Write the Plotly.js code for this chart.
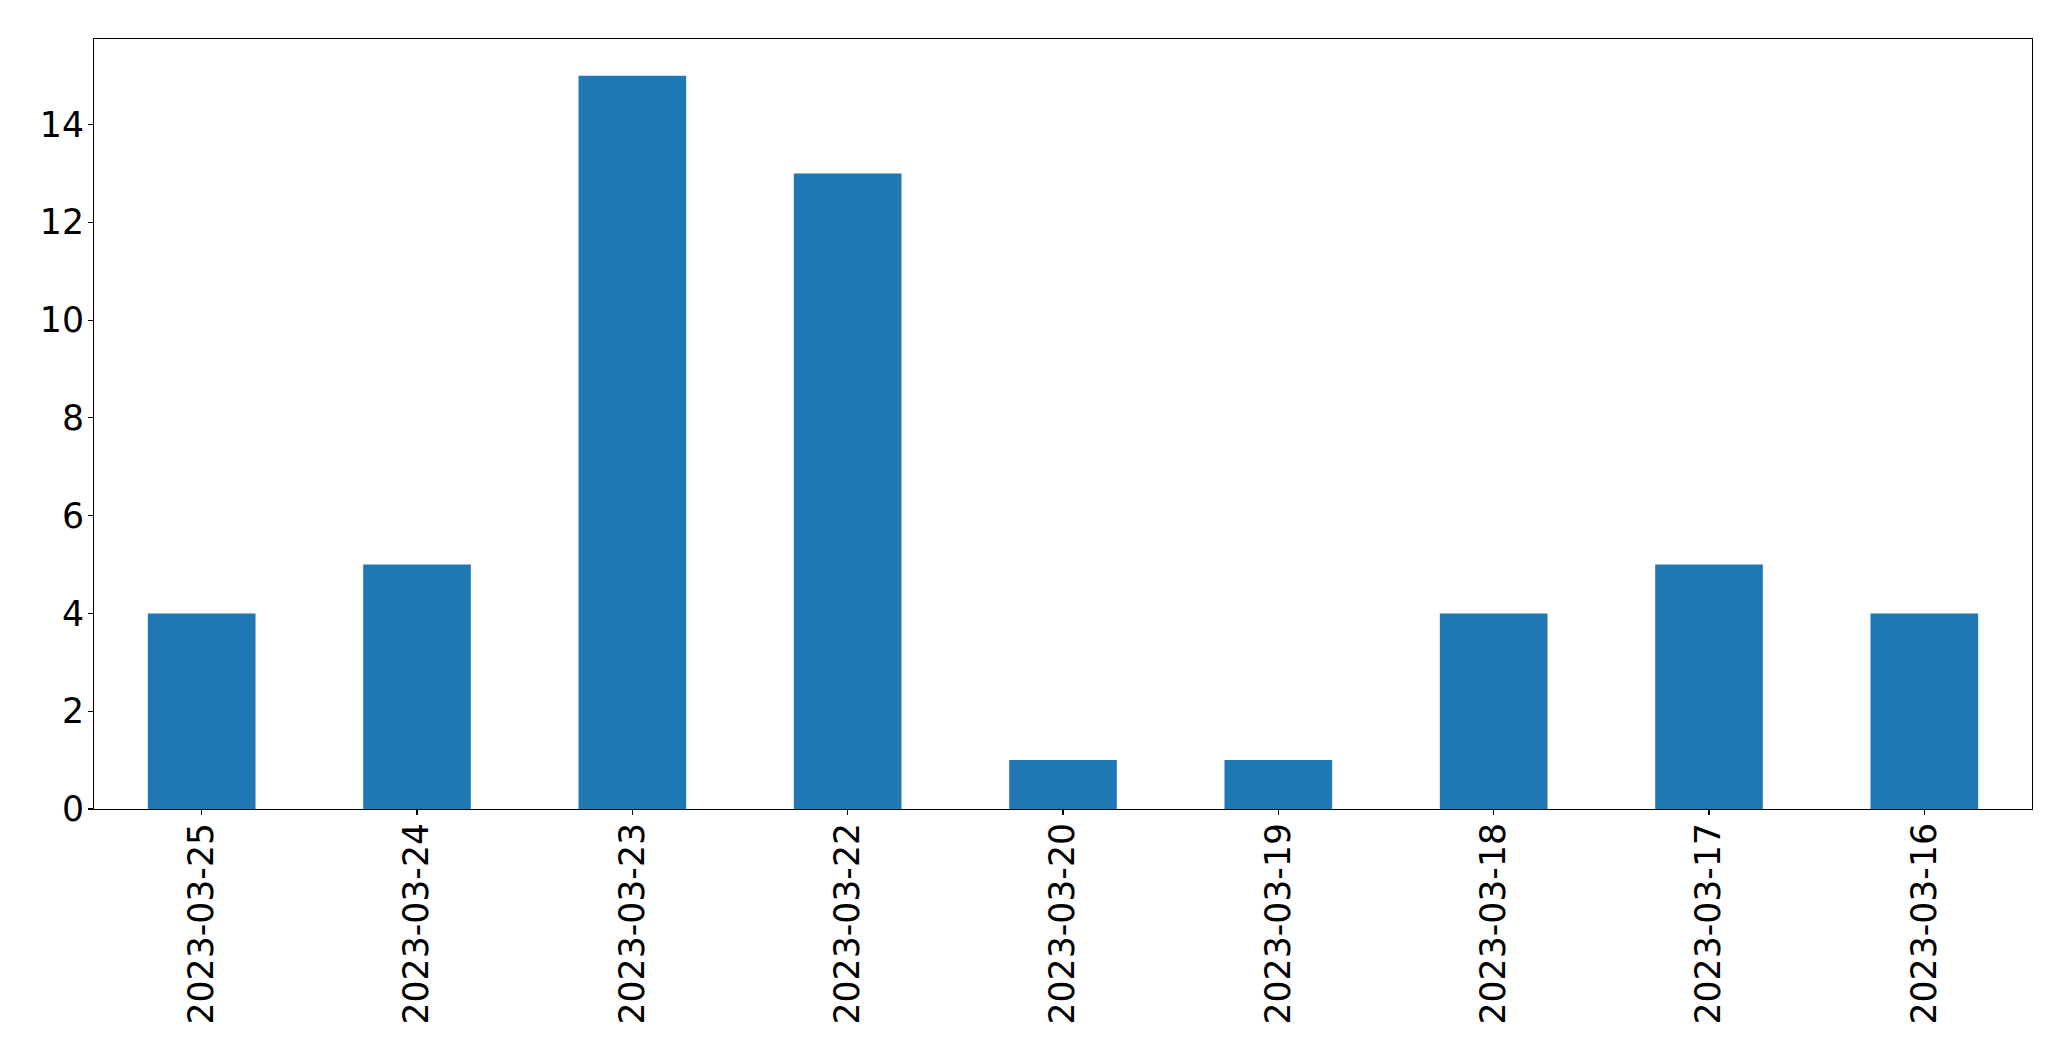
<!DOCTYPE html>
<html>
<head>
<meta charset="utf-8">
<script src="https://cdn.plot.ly/plotly-3.0.1.min.js"></script>
<style>html,body{margin:0;padding:0;background:#fff;}#chart{width:2071px;height:1061px;}</style>
</head>
<body>
<div id="chart"></div>
<script>
const dates = ["2023-03-25","2023-03-24","2023-03-23","2023-03-22","2023-03-20","2023-03-19","2023-03-18","2023-03-17","2023-03-16"];
const counts = [4, 5, 15, 13, 1, 1, 4, 5, 4];
const yTicks = [0, 2, 4, 6, 8, 10, 12, 14];

const trace = {
  type: 'bar',
  x: dates.map((d, i) => i),
  y: counts,
  width: 0.5,
  marker: {color: '#1f77b4', line: {width: 0}},
  hoverinfo: 'none'
};

const font = {family: 'DejaVu Sans', size: 34.7, color: '#000'};

const layout = {
  width: 2071, height: 1061,
  margin: {l: 94, r: 39, t: 39, b: 252, pad: 0},
  paper_bgcolor: '#fff', plot_bgcolor: '#fff',
  showlegend: false,
  font: font,
  xaxis: {
    range: [-0.5, 8.5],
    tickmode: 'array',
    tickvals: dates.map((d, i) => i),
    ticktext: dates,
    tickangle: -90,
    ticks: 'outside', ticklen: 5, tickwidth: 1.1, tickcolor: '#000',
    ticklabelstandoff: -6,
    showgrid: false, zeroline: false,
    showline: true, linecolor: '#000', linewidth: 1.1, mirror: true,
    tickfont: font
  },
  yaxis: {
    range: [0, 15.75],
    tickmode: 'array',
    tickvals: yTicks,
    ticktext: yTicks.map(String),
    ticks: 'outside', ticklen: 5, tickwidth: 1.1, tickcolor: '#000',
    ticklabelstandoff: -3,
    showgrid: false, zeroline: false,
    showline: true, linecolor: '#000', linewidth: 1.1, mirror: true,
    tickfont: font
  }
};

Plotly.newPlot('chart', [trace], layout, {staticPlot: true, displayModeBar: false});
</script>
</body>
</html>
